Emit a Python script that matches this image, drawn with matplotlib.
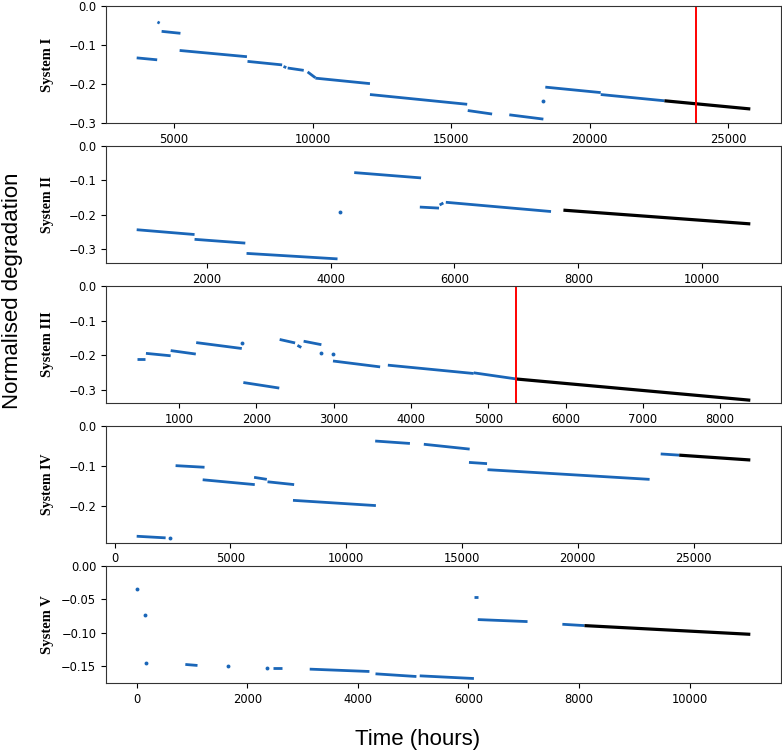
import matplotlib
matplotlib.use("Agg")
import matplotlib.pyplot as plt

BLUE = "#1a66b8"

system_names = ["System I", "System II", "System III", "System IV", "System V"]

# ---- System I ----
s1_t0 = [3650, 4400, 4550, 5200, 7650, 8950, 9100, 9820, 10100, 12070, 15600, 17100, 18400, 20400]
s1_t1 = [4390, 4480, 5230, 7630, 8900, 9050, 9680, 10100, 12070, 15580, 16480, 18330, 20400, 22700]
s1_v0 = [-0.133, -0.041, -0.065, -0.114, -0.142, -0.155, -0.159, -0.169, -0.185, -0.227, -0.268, -0.279, -0.208, -0.227]
s1_v1 = [-0.138, -0.044, -0.070, -0.130, -0.151, -0.158, -0.165, -0.184, -0.199, -0.252, -0.277, -0.290, -0.222, -0.243]
s1_pt_t = [18330]
s1_pt_v = [-0.243]
s1_fc_t = [22700, 25800]
s1_fc_v = [-0.243, -0.264]
s1_red = 23850
s1_ymin = -0.3

# ---- System II ----
s2_t0 = [865, 1800, 2640, 4380, 5440, 5760, 5860]
s2_t1 = [1800, 2620, 4110, 5460, 5750, 5820, 7560]
s2_v0 = [-0.244, -0.272, -0.313, -0.0775, -0.178, -0.172, -0.164]
s2_v1 = [-0.258, -0.283, -0.329, -0.093, -0.181, -0.166, -0.191]
s2_pt_t = [4150]
s2_pt_v = [-0.193]
s2_fc_t = [7760, 10780]
s2_fc_v = [-0.187, -0.227]
s2_red = None
s2_ymin = -0.341

# ---- System III ----
s3_t0 = [450, 570, 890, 1220, 1830, 2300, 2530, 2610, 2990, 3700, 4810]
s3_t1 = [560, 890, 1215, 1810, 2295, 2500, 2580, 2840, 3600, 4810, 5370]
s3_v0 = [-0.211, -0.194, -0.186, -0.163, -0.278, -0.154, -0.171, -0.159, -0.216, -0.228, -0.250]
s3_v1 = [-0.211, -0.201, -0.196, -0.180, -0.294, -0.164, -0.177, -0.169, -0.233, -0.252, -0.268]
s3_pt_t = [1815, 2830, 2990]
s3_pt_v = [-0.164, -0.193, -0.197]
s3_fc_t = [5370, 8390]
s3_fc_v = [-0.268, -0.329]
s3_red = 5360
s3_ymin = -0.337

# ---- System IV ----
s4_t0 = [950, 2630, 3800, 6020, 6600, 7700, 11250, 13350, 15300, 16100, 23580]
s4_t1 = [2200, 3880, 6050, 6570, 7750, 11280, 12750, 15330, 16080, 23100, 24380]
s4_v0 = [-0.274, -0.099, -0.134, -0.128, -0.139, -0.185, -0.038, -0.046, -0.091, -0.109, -0.070]
s4_v1 = [-0.278, -0.103, -0.146, -0.133, -0.146, -0.198, -0.044, -0.058, -0.094, -0.133, -0.073]
s4_pt_t = [2370]
s4_pt_v = [-0.278]
s4_fc_t = [24380, 27450]
s4_fc_v = [-0.073, -0.085]
s4_red = None
s4_ymin = -0.290

# ---- System V ----
s5_t0 = [880, 2470, 3130, 4320, 5120, 6100, 6170, 7700]
s5_t1 = [1100, 2620, 4210, 5060, 6100, 6170, 7070, 8100]
s5_v0 = [-0.147, -0.152, -0.154, -0.161, -0.164, -0.0465, -0.080, -0.087]
s5_v1 = [-0.1485, -0.152, -0.1575, -0.165, -0.168, -0.0465, -0.083, -0.089]
s5_pt_t = [0, 145, 170, 1650, 2350]
s5_pt_v = [-0.0347, -0.0733, -0.1446, -0.1495, -0.152]
s5_fc_t = [8100, 11100]
s5_fc_v = [-0.089, -0.102]
s5_red = None
s5_ymin = -0.1747

systems = [
    (s1_t0, s1_t1, s1_v0, s1_v1, s1_pt_t, s1_pt_v, s1_fc_t, s1_fc_v, s1_red, s1_ymin),
    (s2_t0, s2_t1, s2_v0, s2_v1, s2_pt_t, s2_pt_v, s2_fc_t, s2_fc_v, s2_red, s2_ymin),
    (s3_t0, s3_t1, s3_v0, s3_v1, s3_pt_t, s3_pt_v, s3_fc_t, s3_fc_v, s3_red, s3_ymin),
    (s4_t0, s4_t1, s4_v0, s4_v1, s4_pt_t, s4_pt_v, s4_fc_t, s4_fc_v, s4_red, s4_ymin),
    (s5_t0, s5_t1, s5_v0, s5_v1, s5_pt_t, s5_pt_v, s5_fc_t, s5_fc_v, s5_red, s5_ymin),
]

label_sizes = [10.5, 10, 10.5, 10, 10.5]

W, H = 782, 754
fig = plt.figure(figsize=(W / 100, H / 100), dpi=100)

tops_px = [6, 146, 286, 425.7, 566]
height_px = 117
left_px, right_px = 106, 781

for i, (t0, t1, v0, v1, pt, pv, ft, fv, red, ymin) in enumerate(systems):
    bottom = 1 - (tops_px[i] + height_px) / H
    ax = fig.add_axes([left_px / W, bottom, (right_px - left_px) / W, height_px / H])
    for a, b, c, d in zip(t0, t1, v0, v1):
        ax.plot([a, b], [c, d], color=BLUE, lw=2.0, solid_capstyle="butt")
    ax.plot(pt, pv, linestyle="none", marker="o", ms=2.8, color=BLUE, mec="none")
    ax.plot(ft, fv, color="black", lw=2.3, solid_capstyle="butt")
    if red is not None:
        ax.axvline(red, color="red", lw=1.4)
    ax.set_ylim(ymin, 0.0)
    ax.tick_params(labelsize=8.3)
    for sp in ax.spines.values():
        sp.set_color("#333333")
    ax.set_ylabel(system_names[i], family="Liberation Serif", fontweight="bold",
                  fontsize=label_sizes[i])
    ax.yaxis.set_label_coords((54 - left_px) / (right_px - left_px), 0.5)

fig.text(2 / W, 1 - 291 / H, "Normalised degradation", rotation=90, ha="left",
         va="center", fontsize=16, family="Liberation Sans")
fig.text(418 / W, 1 - 740 / H, "Time (hours)", ha="center", va="center",
         fontsize=16, family="Liberation Sans")

fig.savefig("out.png", dpi=100)
